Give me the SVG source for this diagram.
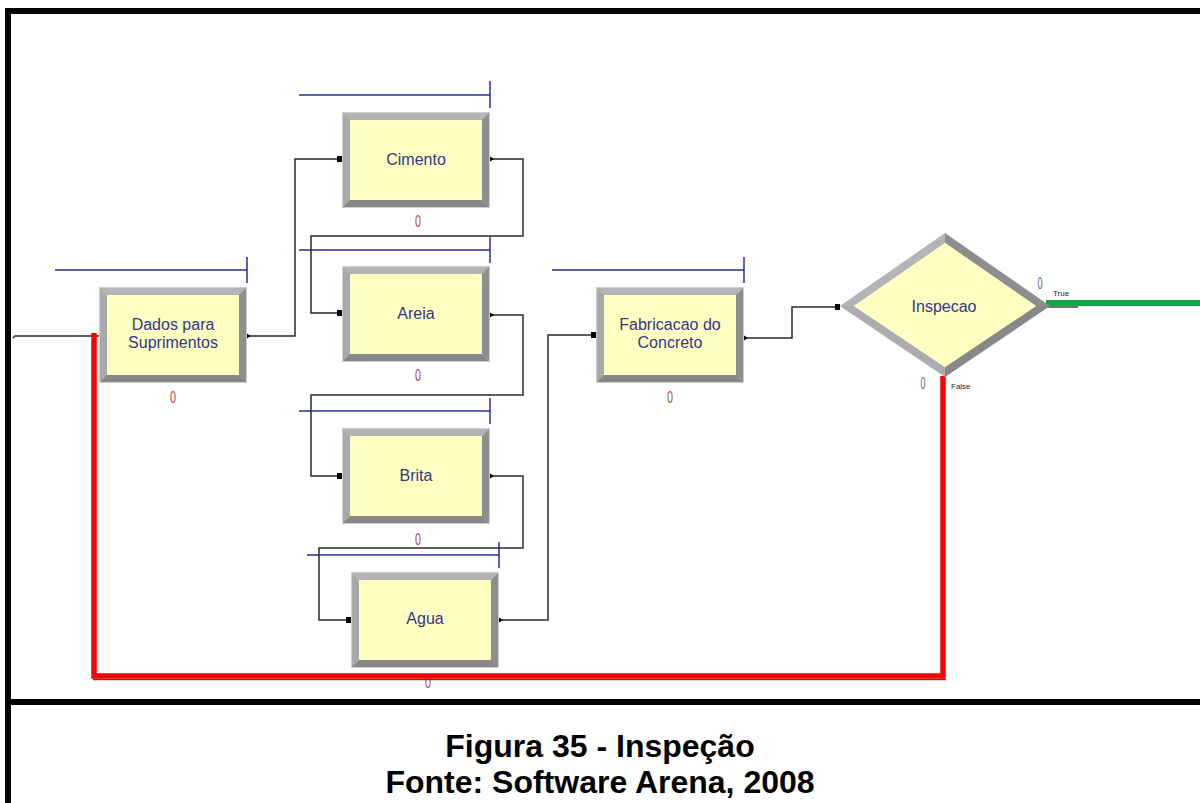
<svg xmlns="http://www.w3.org/2000/svg" xmlns:xlink="http://www.w3.org/1999/xlink" width="1200" height="803" viewBox="0 0 1200 803">
  <style>
    .lbl { font-family: "Liberation Sans", Arial, sans-serif; font-size: 16px; fill: #35358a; text-anchor: middle; }
    .cnt { font-family: "Liberation Sans", Arial, sans-serif; font-size: 16px; fill: #b04848; text-anchor: middle; }
    .cntb { font-family: "Liberation Sans", Arial, sans-serif; font-size: 16px; fill: #6a5a9e; text-anchor: middle; }
    .small { font-family: "Liberation Sans", Arial, sans-serif; font-size: 8px; fill: #222; }
    .queue { fill: none; stroke: #2b2b9c; stroke-width: 1.5; }
    .conn { fill: none; stroke: #2a2a2a; stroke-width: 1.5; }
    .frame { fill: none; stroke: #000; stroke-width: 6; }
    .cap { font-family: "Liberation Sans", Arial, sans-serif; font-size: 32px; font-weight: bold; fill: #000; text-anchor: middle; }
  </style>
  <defs>
    <!-- bevelled process block, 148 x 96 -->
    <g id="box">
      <rect x="0" y="0" width="148" height="96" fill="#c8c8c8"/>
      <polygon points="0,0 148,0 140,8 8,8" fill="#b4b4b4"/>
      <polygon points="0,0 8,8 8,88 0,96" fill="#a9a9a9"/>
      <polygon points="148,0 148,96 140,88 140,8" fill="#8e8e8e"/>
      <polygon points="0,96 148,96 140,88 8,88" fill="#878787"/>
      <rect x="8" y="8" width="132" height="80" fill="#ffffc2"/>
      <rect x="0.5" y="0.5" width="147" height="95" fill="none" stroke="#cfcfcf" stroke-width="1"/>
    </g>
    <rect id="inport" x="0" y="0" width="5" height="6" fill="#000"/>
    <polygon id="outport" points="0,-2.5 4,0 0,2.5" fill="#000"/>
  </defs>

  <rect x="0" y="0" width="1200" height="803" fill="#fff"/>

  <!-- page frame and caption divider -->
  <path class="frame" d="M8,803 V11 H1200"/>
  <path class="frame" d="M8,702 H1200"/>

  <!-- queues -->
  <g id="queues">
    <path class="queue" d="M55,270 H247 M247,257 V283"/>
    <path class="queue" d="M299,95 H490 M490,81 V108"/>
    <path class="queue" d="M299,250 H490 M490,237 V263"/>
    <path class="queue" d="M299,411 H490 M490,398 V424"/>
    <path class="queue" d="M307,555 H499 M499,542 V568"/>
    <path class="queue" d="M552,270 H744 M744,257 V283"/>
  </g>

  <!-- counter hidden under the return line -->
  <text class="cnt" x="428" y="688" textLength="6" lengthAdjust="spacingAndGlyphs">0</text>

  <!-- connectors -->
  <g id="connectors">
    <path class="conn" d="M13,338 L15,336 H99"/>
    <path class="conn" d="M247,336 H295 V159 H342"/>
    <path class="conn" d="M490,159 H523 V236 H311 V313 H342"/>
    <path class="conn" d="M490,315 H523 V395 H311 V476 H342"/>
    <path class="conn" d="M490,476 H523 V548 H319 V620 H351"/>
    <path class="conn" d="M499,620 H548 V335 H596"/>
    <path class="conn" d="M744,338 H792 V307 H840"/>
    <!-- True branch -->
    <path d="M1046,307 H1078" fill="none" stroke="#444" stroke-width="1.5"/>
    <path d="M1046,303 H1200" fill="none" stroke="#12a84a" stroke-width="6"/>
    <!-- False branch back to the start -->
    <path d="M93,679.5 H946" fill="none" stroke="#444" stroke-width="1.5"/>
    <path d="M943,376 V676 H94 V333" fill="none" stroke="#ff0000" stroke-width="5.5"/>
  </g>

  <!-- process blocks -->
  <g id="node-dados">
    <use xlink:href="#box" x="99" y="287"/>
    <text class="lbl" x="173" y="330">Dados para</text>
    <text class="lbl" x="173" y="348">Suprimentos</text>
    <text class="cnt" x="173" y="403" textLength="6" lengthAdjust="spacingAndGlyphs">0</text>
    <use xlink:href="#outport" x="247" y="336"/>
  </g>

  <g id="node-cimento">
    <use xlink:href="#box" x="342" y="112"/>
    <text class="lbl" x="416" y="165">Cimento</text>
    <text class="cnt" x="418" y="227" textLength="6" lengthAdjust="spacingAndGlyphs">0</text>
    <use xlink:href="#inport" x="337" y="156"/>
    <use xlink:href="#outport" x="490" y="159"/>
  </g>

  <g id="node-areia">
    <use xlink:href="#box" x="342" y="266"/>
    <text class="lbl" x="416" y="319">Areia</text>
    <text class="cnt" x="418" y="381" textLength="6" lengthAdjust="spacingAndGlyphs">0</text>
    <use xlink:href="#inport" x="337" y="310"/>
    <use xlink:href="#outport" x="490" y="315"/>
  </g>

  <g id="node-brita">
    <use xlink:href="#box" x="342" y="428"/>
    <text class="lbl" x="416" y="481">Brita</text>
    <text class="cnt" x="418" y="545" textLength="6" lengthAdjust="spacingAndGlyphs">0</text>
    <use xlink:href="#inport" x="337" y="473"/>
    <use xlink:href="#outport" x="490" y="476"/>
  </g>

  <g id="node-agua">
    <use xlink:href="#box" x="351" y="572"/>
    <text class="lbl" x="425" y="624">Agua</text>
    <use xlink:href="#inport" x="346" y="617"/>
    <use xlink:href="#outport" x="499" y="620"/>
  </g>

  <g id="node-fabricacao">
    <use xlink:href="#box" x="596" y="287"/>
    <text class="lbl" x="670" y="330">Fabricacao do</text>
    <text class="lbl" x="670" y="348">Concreto</text>
    <text class="cnt" x="670" y="403" textLength="6" lengthAdjust="spacingAndGlyphs">0</text>
    <use xlink:href="#inport" x="591" y="332"/>
    <use xlink:href="#outport" x="744" y="338"/>
  </g>

  <!-- decision block -->
  <g id="node-inspecao">
    <polygon points="840,306 945,233 945,243 854,306" fill="#b4b4b4"/>
    <polygon points="945,233 1050,306 1036,306 945,243" fill="#8e8e8e"/>
    <polygon points="1050,306 945,377 945,367 1036,306" fill="#888"/>
    <polygon points="945,377 840,306 854,306 945,367" fill="#adadad"/>
    <polygon points="854,306 945,243 1036,306 945,367" fill="#ffffc2"/>
    <text class="lbl" x="944" y="312">Inspecao</text>
    <use xlink:href="#inport" x="835" y="304"/>
    <text class="cntb" x="1040" y="289" textLength="5" lengthAdjust="spacingAndGlyphs">0</text>
    <text class="small" x="1053" y="296">True</text>
    <text class="cntb" x="923" y="389" textLength="5" lengthAdjust="spacingAndGlyphs">0</text>
    <text class="small" x="951" y="389">False</text>
  </g>

  <!-- caption -->
  <text class="cap" x="600" y="757">Figura 35 - Inspeção</text>
  <text class="cap" x="600" y="793">Fonte: Software Arena, 2008</text>
</svg>
